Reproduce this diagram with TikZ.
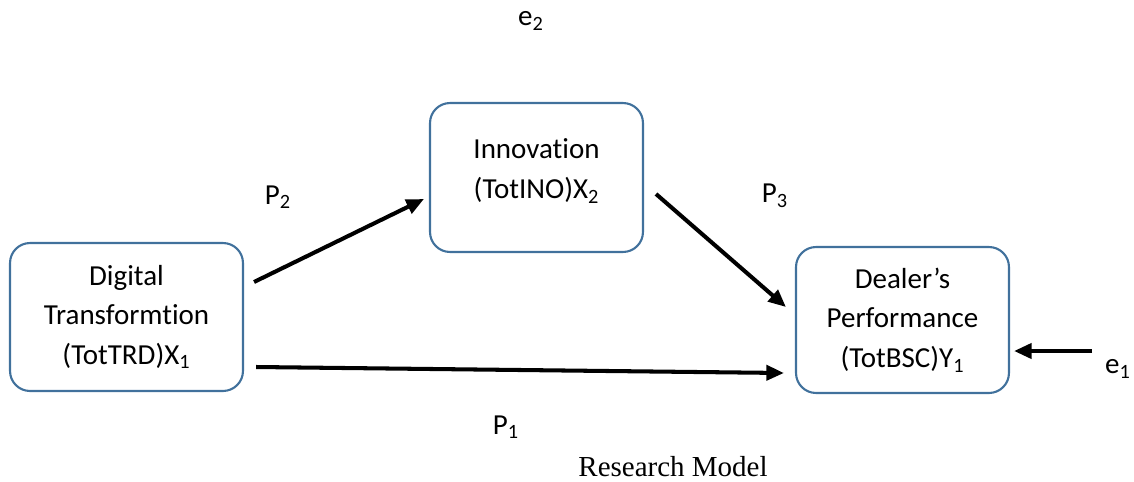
\documentclass[tikz,border=0pt]{standalone}
\usepackage{fontspec}
\setmainfont{Carlito}[Ligatures=NoCommon]
\newfontfamily\capfont{Liberation Serif}
\usetikzlibrary{arrows.meta,calc}
\definecolor{boxblue}{RGB}{65,113,156}

\begin{document}
\begin{tikzpicture}[x=0.02cm,y=-0.02cm,
    var/.style={draw=boxblue,line width=1.2pt,rounded corners=0.4cm,align=center,
      font=\fontsize{16.5}{22.5}\selectfont},
    lbl/.style={font=\fontsize{16.5}{20}\selectfont},
    path/.style={line width=2.3pt,-{Triangle[length=10pt,width=8.5pt]}}]
  \useasboundingbox (0,0) rectangle (1134,481);
  \node [var,minimum width=4.66cm,minimum height=2.96cm] (dt) at (126.5,317)
    {Digital\\Transformtion\\(TotTRD)X\textsubscript{1}};
  \node [var,minimum width=4.26cm,minimum height=2.98cm,text depth=0.35cm] (ino) at (536.5,177.5)
    {Innovation\\(TotINO)X\textsubscript{2}};
  \node [var,minimum width=4.26cm,minimum height=2.92cm] (dp) at (902.5,320)
    {Dealer’s\\Performance\\(TotBSC)Y\textsubscript{1}};
  \node [lbl] (e2) at (531,21) {e\textsubscript{2}};
  \node [lbl] (p2) at (278,197) {P\textsubscript{2}};
  \node [lbl] (p3) at (775,196) {P\textsubscript{3}};
  \node [lbl] (p1) at (506,427) {P\textsubscript{1}};
  \node [lbl] (e1) at (1118,369) {e\textsubscript{1}};
  \node [font=\capfont\fontsize{16.5}{20}\selectfont] (cap) at (673,467) {Research Model};

  \draw [path] ($(dt.east)+(10,-35)$) -- ($(ino.west)+(-5,21.5)$);
  \draw [path] ($(ino.east)+(12,16.5)$) -- ($(dp.west)+(-9,-13)$);
  \draw [path] ($(dt.east)+(12,50)$) -- ($(dp.west)+(-11,53)$);
  \draw [path] ($(e1)+(-26,-18)$) -- ($(dp.east)+(4,31)$);
\end{tikzpicture}
\end{document}
